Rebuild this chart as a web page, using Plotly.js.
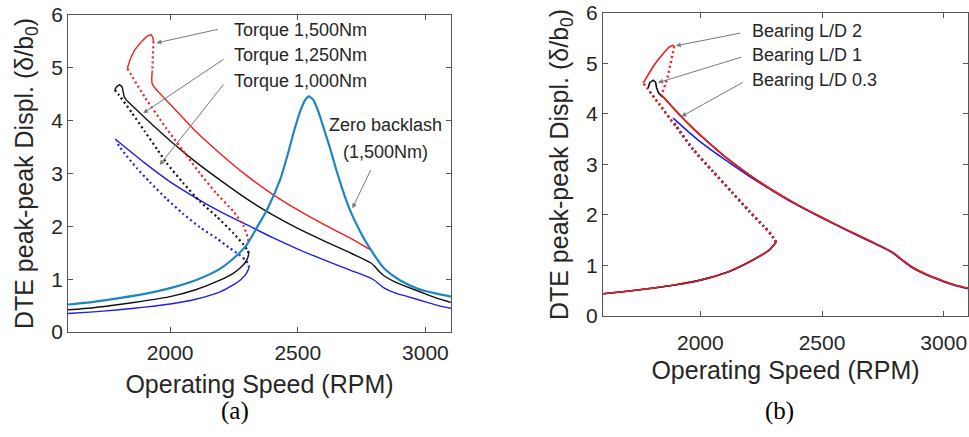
<!DOCTYPE html>
<html><head><meta charset="utf-8">
<script src="https://cdn.plot.ly/plotly-3.0.1.min.js"></script>
<style>html,body{margin:0;padding:0;background:#fff;}#chart{width:969px;height:437px;}</style>
</head><body><div id="chart"></div>
<script>
// ---------- Panel (a) data ----------
const aZeroX = [1600,1700,1800,1900,2000,2100,2190,2250,2300,2340,2380,2432,2460,2485,2511,2530,2543,2560,2580,2600,2625,2650,2675,2700,2740,2780,2839,2900,2970,3040,3100];
const aZeroY = [0.52,0.57,0.64,0.72,0.83,0.98,1.18,1.40,1.65,1.98,2.32,2.90,3.35,3.80,4.20,4.40,4.46,4.40,4.18,3.88,3.50,3.08,2.70,2.36,1.94,1.60,1.20,0.98,0.82,0.73,0.67];

const aBlkLowX = [1600,1700,1800,1900,2000,2100,2195,2250,2274,2295,2305,2308];
const aBlkLowY = [0.42,0.46,0.52,0.59,0.67,0.80,0.98,1.12,1.21,1.32,1.42,1.49];
const aBlkDotX = [2308,2303,2288,2248,2183,2117,2051,1986,1950,1900,1850,1800,1783];
const aBlkDotY = [1.49,1.55,1.65,1.87,2.18,2.47,2.82,3.20,3.45,3.80,4.15,4.48,4.58];
const aBlkHookX = [1783,1790,1802,1812,1816,1820,1830];
const aBlkHookY = [4.58,4.64,4.68,4.64,4.55,4.45,4.38];
const aBlkUpX = [1830,1900,2000,2100,2200,2300,2400,2500,2600,2700,2785,2800,2820,2839,2880,2931,3000,3050,3100];
const aBlkUpY = [4.38,4.06,3.62,3.22,2.86,2.52,2.22,1.96,1.73,1.51,1.31,1.25,1.14,1.06,0.95,0.85,0.72,0.63,0.56];

const aBluLowX = [1600,1700,1800,1900,2000,2100,2196,2250,2274,2295,2305,2309];
const aBluLowY = [0.35,0.38,0.42,0.47,0.53,0.62,0.76,0.90,0.98,1.08,1.17,1.22];
const aBluDotX = [2309,2305,2295,2274,2230,2183,2117,2050,1986,1920,1870,1830,1800,1789];
const aBluDotY = [1.22,1.30,1.36,1.45,1.60,1.77,1.98,2.24,2.52,2.84,3.10,3.33,3.52,3.62];
const aBluUpX = [1785,1800,1900,2000,2100,2200,2300,2400,2500,2600,2700,2785,2800,2820,2839,2880,2931,3000,3050,3100];
const aBluUpY = [3.65,3.59,3.20,2.84,2.54,2.27,2.03,1.79,1.57,1.37,1.18,1.02,0.98,0.90,0.83,0.74,0.67,0.57,0.50,0.45];

const aRedDot1X = [2307,2303,2288,2248,2180,2117,2071,1986,1900,1832];
const aRedDot1Y = [1.72,1.80,2.00,2.28,2.63,3.00,3.30,3.85,4.45,4.99];
const aRedLoopX = [1832,1845,1860,1888,1910,1925,1932,1935];
const aRedLoopY = [4.99,5.18,5.33,5.50,5.60,5.63,5.58,5.50];
const aRedDot2X = [1935,1934,1932,1930];
const aRedDot2Y = [5.50,5.30,5.10,4.95];
const aRedUpX = [1930,1928,1930,1940,2000,2100,2200,2300,2400,2500,2600,2700,2780];
const aRedUpY = [4.95,4.80,4.70,4.62,4.31,3.80,3.36,2.96,2.61,2.31,2.04,1.79,1.57];

// ---------- Panel (b) data ----------
const bLowX = [1600,1700,1800,1900,2000,2107,2216,2284,2311];
const bLowY = [0.44,0.49,0.55,0.62,0.71,0.86,1.11,1.31,1.46];
const bDotX = [2311,2300,2290,2260,2200,2130,2050,1970,1900,1830,1785,1765];
const bDotY = [1.46,1.55,1.62,1.78,2.08,2.45,2.87,3.30,3.75,4.20,4.49,4.61];
const bBluDotX = [2311,2300,2290,2260,2200,2130,2050,1970,1888];
const bBluDotY = [1.46,1.55,1.62,1.78,2.08,2.45,2.87,3.30,3.86];
const bBlkDotX = [2311,2300,2290,2260,2200,2130,2050,1970,1900,1830,1785];
const bBlkDotY = [1.46,1.55,1.62,1.78,2.08,2.45,2.87,3.30,3.75,4.20,4.49];
const bSharedUpX = [1845,1900,1950,2000,2100,2200,2300,2400,2500,2600,2700,2790,2830,2870,2930,3000,3050,3100];
const bSharedUpY = [4.35,4.06,3.81,3.58,3.16,2.80,2.48,2.20,1.95,1.71,1.48,1.26,1.11,0.97,0.82,0.69,0.61,0.55];
const bBluUpX = [1888,1900,1950,2000,2100,2200,2300,2400,2500,2600,2700,2790,2830,2870,2930,3000,3050,3100];
const bBluUpY = [3.92,3.87,3.65,3.45,3.10,2.77,2.47,2.19,1.94,1.70,1.47,1.25,1.10,0.96,0.81,0.68,0.60,0.54];
const bBlkHookX = [1785,1792,1806,1816,1820,1828,1845];
const bBlkHookY = [4.51,4.62,4.67,4.63,4.52,4.42,4.33];
const bRedLoopX = [1765,1785,1806,1830,1847,1870,1885,1893];
const bRedLoopY = [4.61,4.78,4.94,5.10,5.20,5.32,5.36,5.34];
const bRedDot2X = [1893,1880,1865,1850,1840];
const bRedDot2Y = [5.34,5.02,4.72,4.50,4.38];

const RED = '#f21d1d', BLK = '#111111', BLU = '#1f1fe6', ZB = '#1d86c2';
const DOT = '2px,3px';

function tr(x, y, color, width, dash, ax, shape) {
  return {x: x, y: y, type: 'scatter', mode: 'lines', xaxis: ax ? 'x2' : 'x', yaxis: ax ? 'y2' : 'y',
    line: {color: color, width: width, dash: dash || 'solid', shape: shape || 'spline', smoothing: 0.6},
    showlegend: false, hoverinfo: 'skip'};
}

const data = [
  // panel a
  tr(aBluLowX, aBluLowY, BLU, 1.4),
  tr(aBluDotX, aBluDotY, BLU, 2.2, DOT),
  tr(aBluUpX, aBluUpY, BLU, 1.4),
  tr(aBlkLowX, aBlkLowY, BLK, 1.4),
  tr(aBlkDotX, aBlkDotY, BLK, 2.2, DOT),
  tr(aBlkHookX, aBlkHookY, BLK, 1.4, null, 0, 'linear'),
  tr(aBlkUpX, aBlkUpY, BLK, 1.4),
  tr(aRedDot1X, aRedDot1Y, RED, 2.2, DOT),
  tr(aRedLoopX, aRedLoopY, RED, 1.4, null, 0, 'linear'),
  tr(aRedDot2X, aRedDot2Y, RED, 2.2, DOT, 0, 'linear'),
  tr(aRedUpX, aRedUpY, RED, 1.4),
  tr(aZeroX, aZeroY, ZB, 2.2),
  // panel b
  tr(bBluDotX, bBluDotY, BLU, 2.4, DOT, 1),
  tr(bBluUpX, bBluUpY, BLU, 1.6, null, 1),
  tr(bLowX, bLowY, BLU, 1.6, null, 1),
  tr(bBlkDotX, bBlkDotY, BLK, 2.4, DOT, 1),
  tr(bBlkHookX, bBlkHookY, BLK, 1.6, null, 1, 'linear'),
  tr(bSharedUpX, bSharedUpY, BLK, 1.6, null, 1),
  tr(bLowX, bLowY, BLK, 1.6, null, 1),
  tr(bDotX, bDotY, RED, 2.4, DOT, 1),
  tr(bRedLoopX, bRedLoopY, RED, 1.6, null, 1, 'linear'),
  tr(bRedDot2X, bRedDot2Y, RED, 2.4, DOT, 1, 'linear'),
  tr([1840].concat(bSharedUpX), [4.38].concat(bSharedUpY), RED, 1.6, null, 1),
  tr(bLowX, bLowY, RED, 1.4, null, 1)
];

const FONT = 'Liberation Sans, Arial, sans-serif';
const TXT = '#262626';
function xax(domain, anchor, tls, ts) {
  return {domain: domain, anchor: anchor, range: [1600, 3100], tickvals: [2000, 2500, 3000],
    ticks: 'inside', ticklen: 5, tickcolor: '#555', mirror: 'ticks', showline: true, linecolor: '#555', linewidth: 1,
    showgrid: false, zeroline: false, tickfont: {family: FONT, size: 21, color: TXT}, ticklabelstandoff: tls,
    title: {text: 'Operating Speed (RPM)', font: {family: FONT, size: 25, color: TXT}, standoff: ts}};
}
function yax(domain, anchor) {
  return {domain: domain, anchor: anchor, range: [0, 6], dtick: 1,
    ticks: 'inside', ticklen: 5, tickcolor: '#555', mirror: 'ticks', showline: true, linecolor: '#555', linewidth: 1,
    showgrid: false, zeroline: false, tickfont: {family: FONT, size: 21, color: TXT},
    title: {text: 'DTE peak-peak Displ. (\u03b4/b<sub>0</sub>)', font: {family: FONT, size: 25, color: TXT}, standoff: 10}};
}

function arrow(xref, yref, x, y, axp, ayp) {
  return {xref: xref, yref: yref, x: x, y: y, ax: axp, ay: ayp, text: '', showarrow: true,
    arrowhead: 2, arrowsize: 1, arrowwidth: 1, arrowcolor: '#7a7a7a', standoff: 0, startstandoff: 0};
}
function label(xref, yref, x, y, text, anchor) {
  return {xref: xref, yref: yref, x: x, y: y, text: text, showarrow: false, xanchor: anchor || 'left', yanchor: 'middle',
    font: {family: FONT, size: 18, color: TXT}};
}

const layout = {
  width: 969, height: 437, margin: {l: 0, r: 0, t: 0, b: 0},
  paper_bgcolor: '#fff', plot_bgcolor: '#fff', showlegend: false,
  xaxis: xax([0.0702, 0.4654], 'y', 2, 12),
  yaxis: yax([0.2403, 0.9657], 'x'),
  xaxis2: xax([0.6223, 0.999], 'y2', 8, 8),
  yaxis2: yax([0.2769, 0.9703], 'x2'),
  annotations: [
    arrow('x', 'y', 1946, 5.47, 63, -14),
    arrow('x', 'y', 1894, 4.14, 82, -55),
    arrow('x', 'y', 1959, 3.16, 65, -82),
    arrow('x', 'y', 2714, 2.34, 19, -40),
    label('x', 'y', 2243, 5.72, 'Torque 1,500Nm'),
    label('x', 'y', 2243, 5.25, 'Torque 1,250Nm'),
    label('x', 'y', 2243, 4.75, 'Torque 1,000Nm'),
    label('x', 'y', 2613, 3.92, 'Zero backlash'),
    label('x', 'y', 2845, 3.41, '(1,500Nm)', 'center'),
    arrow('x2', 'y2', 1899, 5.35, 66, -13),
    arrow('x2', 'y2', 1826, 4.62, 85, -26),
    arrow('x2', 'y2', 1922, 3.95, 63, -35),
    label('x2', 'y2', 2202, 5.64, 'Bearing L/D 2'),
    label('x2', 'y2', 2202, 5.17, 'Bearing L/D 1'),
    label('x2', 'y2', 2202, 4.67, 'Bearing L/D 0.3'),
    {xref: 'paper', yref: 'paper', x: 235 / 969, y: 1 - 411 / 437, text: '(a)', showarrow: false,
      xanchor: 'center', yanchor: 'middle', font: {family: 'Liberation Serif, Times New Roman, serif', size: 25, color: '#000'}},
    {xref: 'paper', yref: 'paper', x: 779 / 969, y: 1 - 411 / 437, text: '(b)', showarrow: false,
      xanchor: 'center', yanchor: 'middle', font: {family: 'Liberation Serif, Times New Roman, serif', size: 25, color: '#000'}}
  ]
};

Plotly.newPlot('chart', data, layout, {staticPlot: true, displayModeBar: false});
</script></body></html>
